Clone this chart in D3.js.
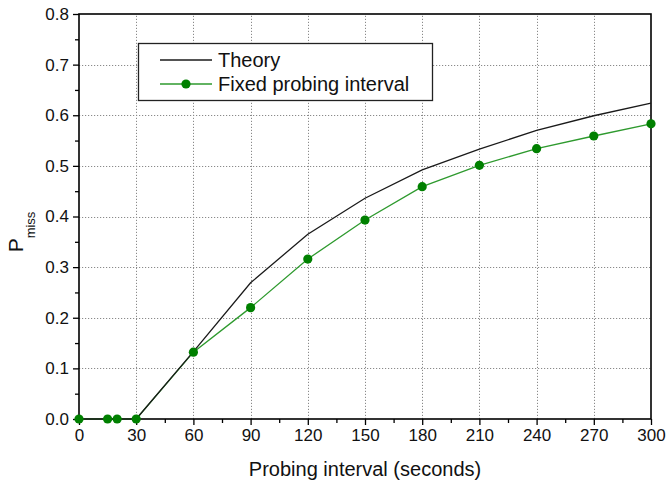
<!DOCTYPE html>
<html>
<head>
<meta charset="utf-8">
<script src="https://cdn.jsdelivr.net/npm/d3@7"></script>
<style>
  body { margin: 0; background: #fff; }
  svg { display: block; font-family: Arial, "Liberation Sans", sans-serif; }
</style>
</head>
<body>
<svg id="chart" width="666" height="480"></svg>
<script>
// Probing interval (seconds) and miss probability
const theoryX = [0, 30, 60, 90, 120, 150, 180, 210, 240, 270, 300];
const theoryY = [0, 0, 0.133, 0.269, 0.365, 0.436, 0.492, 0.533, 0.570, 0.599, 0.624];
const fixedX = [0, 15, 20, 30, 60, 90, 120, 150, 180, 210, 240, 270, 300];
const fixedY = [0, 0, 0, 0, 0.132, 0.220, 0.316, 0.393, 0.459, 0.501, 0.534, 0.559, 0.583];
const xTicks = [0, 30, 60, 90, 120, 150, 180, 210, 240, 270, 300];
const yTicks = [0.0, 0.1, 0.2, 0.3, 0.4, 0.5, 0.6, 0.7, 0.8];
const seriesNames = ["Theory", "Fixed probing interval"];

const svg = d3.select("#chart");
const m = { left: 79, right: 15, top: 14, bottom: 61 };
const W = 666, H = 480;

const x = d3.scaleLinear().domain([0, 300]).range([m.left, W - m.right]);
const y = d3.scaleLinear().domain([0, 0.8]).range([H - m.bottom, m.top]);

// grid
const grid = svg.append("g").attr("stroke", "#8a8a8a").attr("stroke-width", 1)
  .attr("stroke-dasharray", "1.2,1.8");
grid.selectAll(".gx").data(xTicks.slice(1, -1)).join("line")
  .attr("x1", d => Math.round(x(d)) + 0.5).attr("x2", d => Math.round(x(d)) + 0.5)
  .attr("y1", y(0)).attr("y2", y(0.8));
grid.selectAll(".gy").data(yTicks.slice(1, -1)).join("line")
  .attr("y1", d => Math.round(y(d)) + 0.5).attr("y2", d => Math.round(y(d)) + 0.5)
  .attr("x1", x(0)).attr("x2", x(300));

// minor ticks
const minorX = d3.range(15, 300, 30);
const minorY = d3.range(0.05, 0.8, 0.1);

svg.append("g").attr("transform", `translate(0,${y(0)})`)
  .call(d3.axisBottom(x).tickValues(xTicks).tickFormat(d3.format("d")).tickSize(6).tickPadding(4));
svg.append("g").attr("transform", `translate(0,${y(0)})`)
  .call(d3.axisBottom(x).tickValues(minorX).tickFormat("").tickSize(4))
  .call(g => g.select(".domain").remove());
svg.append("g").attr("transform", `translate(${x(0)},0)`)
  .call(d3.axisLeft(y).tickValues(yTicks).tickFormat(d3.format(".1f")).tickSize(6).tickPadding(4));
svg.append("g").attr("transform", `translate(${x(0)},0)`)
  .call(d3.axisLeft(y).tickValues(minorY).tickFormat("").tickSize(4))
  .call(g => g.select(".domain").remove());

svg.selectAll(".tick line").attr("stroke", "#000").attr("stroke-width", 1.3);
svg.selectAll(".domain").remove();
svg.selectAll(".tick text").attr("font-size", 17).attr("fill", "#111")
  .attr("font-family", "Arial, 'Liberation Sans', sans-serif");

// frame
svg.append("rect").attr("x", x(0)).attr("y", y(0.8))
  .attr("width", x(300) - x(0)).attr("height", y(0) - y(0.8))
  .attr("fill", "none").attr("stroke", "#000").attr("stroke-width", 1.6);

// series
const line = d3.line().x(d => x(d[0])).y(d => y(d[1]));
const theory = theoryX.map((v, i) => [v, theoryY[i]]);
const fixed = fixedX.map((v, i) => [v, fixedY[i]]);

svg.append("path").datum(fixed).attr("d", line)
  .attr("fill", "none").attr("stroke", "#2e9a2e").attr("stroke-width", 1.3);
svg.append("path").datum(theory).attr("d", line)
  .attr("fill", "none").attr("stroke", "#1a1a1a").attr("stroke-width", 1.3);
svg.append("g").selectAll("circle").data(fixed).join("circle")
  .attr("cx", d => x(d[0])).attr("cy", d => y(d[1])).attr("r", 4.6)
  .attr("fill", "#008000");

// legend
const lg = svg.append("g");
lg.append("rect").attr("x", 138.5).attr("y", 43.5).attr("width", 294).attr("height", 57)
  .attr("fill", "#fff").attr("stroke", "#222").attr("stroke-width", 1.3);
lg.append("line").attr("x1", 160).attr("x2", 212).attr("y1", 60).attr("y2", 60)
  .attr("stroke", "#1a1a1a").attr("stroke-width", 1.3);
lg.append("line").attr("x1", 160).attr("x2", 212).attr("y1", 84).attr("y2", 84)
  .attr("stroke", "#2e9a2e").attr("stroke-width", 1.3);
lg.append("circle").attr("cx", 186).attr("cy", 84).attr("r", 4.6).attr("fill", "#008000");
lg.selectAll("text").data(seriesNames).join("text")
  .attr("x", 218).attr("y", (d, i) => 67 + i * 24)
  .attr("font-size", 20).attr("fill", "#111").text(d => d);

// axis titles
svg.append("text").attr("x", (x(0) + x(300)) / 2).attr("y", 476)
  .attr("text-anchor", "middle").attr("font-size", 20).attr("fill", "#111")
  .text("Probing interval (seconds)");

const yt = svg.append("text").attr("transform", "translate(23,232) rotate(-90)")
  .attr("text-anchor", "middle").attr("fill", "#111");
yt.append("tspan").attr("font-size", 21).text("P");
yt.append("tspan").attr("font-size", 13).attr("dy", 12).text("miss");
</script>
</body>
</html>
